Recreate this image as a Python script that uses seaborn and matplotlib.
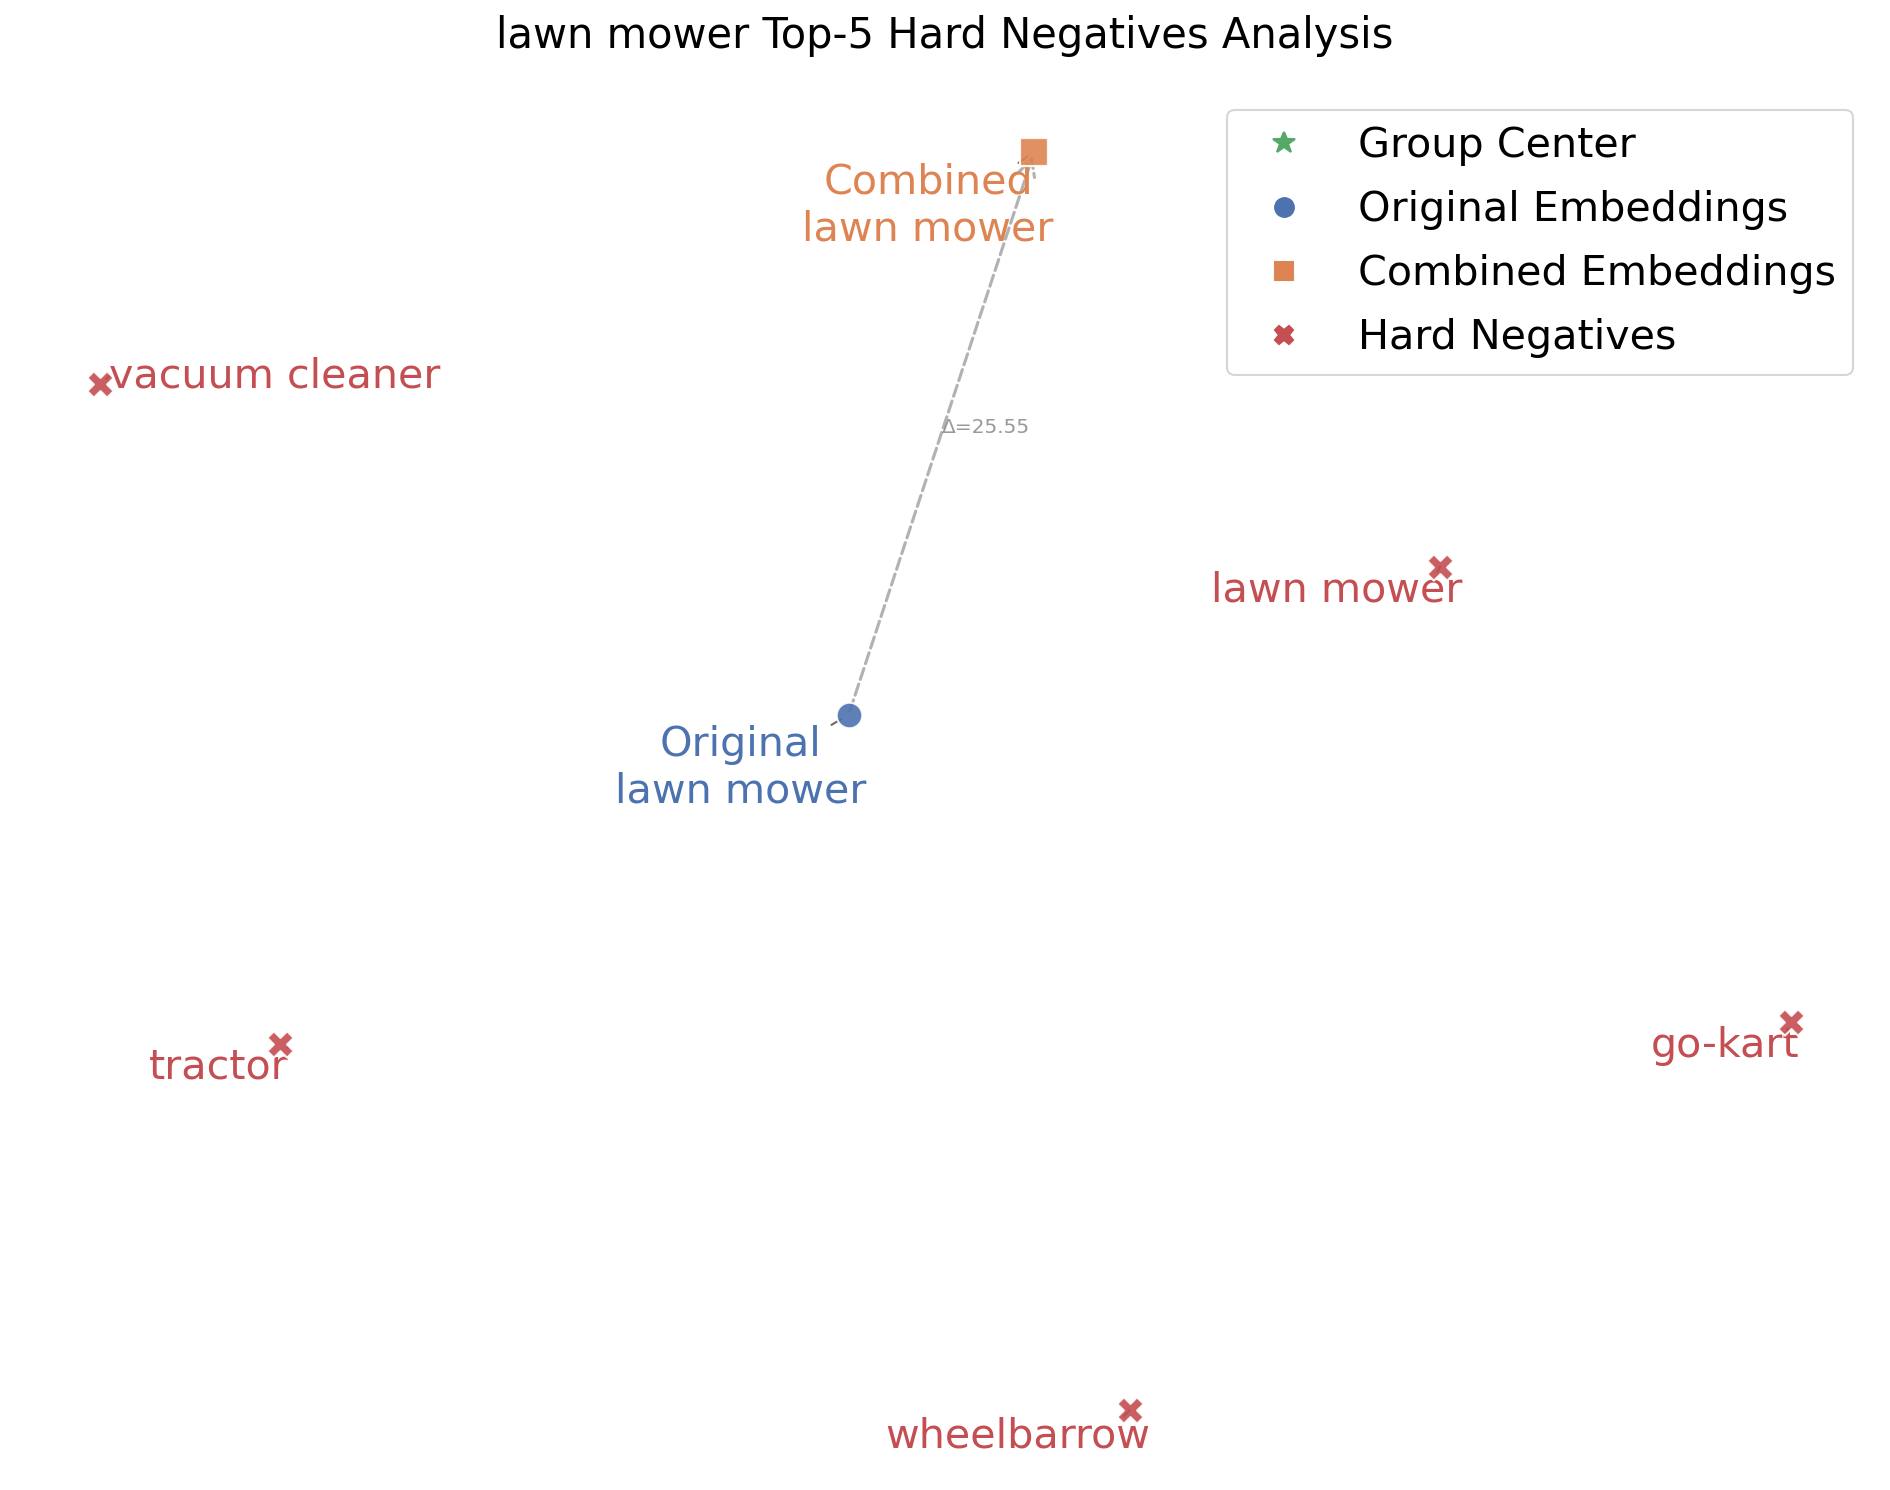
import numpy as np
import pandas as pd
import seaborn as sns
import matplotlib.pyplot as plt
from matplotlib.lines import Line2D

# 2D projection of the embeddings
anchor = "lawn mower"
original_xy = [1.50, -2.00]
combined_xy = [9.50, 22.27]

neg_names = ["vacuum cleaner", "lawn mower", "tractor", "go-kart", "wheelbarrow"]
neg_x = [-30.77, 27.01, -23.02, 42.12, 13.61]
neg_y = [12.24, 4.39, -16.19, -15.24, -31.97]

# where the labels were pushed to (text centres) + which corner the leader line leaves from
orig_label_xy = (-3.14, -4.29)
comb_label_xy = (4.92, 19.93)
neg_label_xy = [(-23.22, 12.60), (22.55, 3.34), (-25.64, -17.22),
                (39.28, -16.28), (8.80, -33.09)]
neg_relpos = [(0, 0.5), (0.9, 1), (1, 1), (1, 1), (0.9, 1)]

sns.set_theme(style="white")
plt.rcParams['font.family'] = ['DejaVu Sans']
plt.rcParams['text.color'] = 'black'
pal = sns.color_palette("deep")
c_blue, c_orange, c_green, c_red = pal[0], pal[1], pal[2], pal[3]

fig = plt.figure(figsize=(12.6, 1490 / 150), dpi=150)
ax = fig.add_axes([0, 0, 1, 1])

neg_df = pd.DataFrame({"x": neg_x, "y": neg_y, "name": neg_names})

# shift arrow original -> combined
ax.annotate("", xy=combined_xy, xytext=original_xy,
            arrowprops=dict(arrowstyle="->", color="gray", ls="--", lw=1.5, alpha=0.6,
                            mutation_scale=20))
dist = np.hypot(combined_xy[0] - original_xy[0], combined_xy[1] - original_xy[1])
mid = ((combined_xy[0] + original_xy[0]) / 2, (combined_xy[1] + original_xy[1]) / 2)
ax.text(mid[0], mid[1], f"Δ={dist:.2f}", fontsize=9.7, color="gray", alpha=0.8)

sns.scatterplot(x=[original_xy[0]], y=[original_xy[1]], marker="o", s=150,
                color=c_blue, alpha=0.9, ax=ax, zorder=4)
sns.scatterplot(x=[combined_xy[0]], y=[combined_xy[1]], marker="s", s=180,
                color=c_orange, alpha=0.9, ax=ax, zorder=4)
sns.scatterplot(data=neg_df, x="x", y="y", marker="X", s=160,
                color=c_red, alpha=0.9, ax=ax, zorder=4)

def leader(relpos):
    return dict(arrowstyle="-", color="dimgray", lw=1.0, relpos=relpos,
                patchA=None, shrinkA=0, shrinkB=4)

ax.annotate(f"Original\n{anchor}", xy=original_xy, xytext=orig_label_xy,
            ha="center", va="center", fontsize=19.8, color=c_blue,
            arrowprops=leader((0.86, 1)))
ax.annotate(f"Combined\n{anchor}", xy=combined_xy, xytext=comb_label_xy,
            ha="center", va="center", fontsize=19.8, color=c_orange,
            arrowprops=leader((0.86, 1)))
for i, name in enumerate(neg_names):
    ax.annotate(name, xy=(neg_x[i], neg_y[i]), xytext=neg_label_xy[i],
                ha="center", va="center", fontsize=19.8, color=c_red,
                arrowprops=leader(neg_relpos[i]))

ax.set_xlim(-35.08, 46.39)
ax.set_ylim(-35.41, 28.81)
ax.axis("off")

handles = [
    Line2D([], [], marker="*", ls="", color=c_green, markersize=11),
    Line2D([], [], marker="o", ls="", color=c_blue, markersize=9),
    Line2D([], [], marker="s", ls="", color=c_orange, markersize=9),
    Line2D([], [], marker="X", ls="", color=c_red, markersize=9),
]
labels = ["Group Center", "Original Embeddings", "Combined Embeddings", "Hard Negatives"]
ax.legend(handles, labels, loc="upper right", bbox_to_anchor=(1853 / 1890, 1 - 110 / 1490),
          borderaxespad=0, labelspacing=0.58, fontsize=19.8, frameon=True)

fig.text(0.5, 1 - 47.7 / 1490, f"{anchor} Top-5 Hard Negatives Analysis",
         ha="center", va="baseline", fontsize=20)

fig.savefig("out.png", dpi=150)
